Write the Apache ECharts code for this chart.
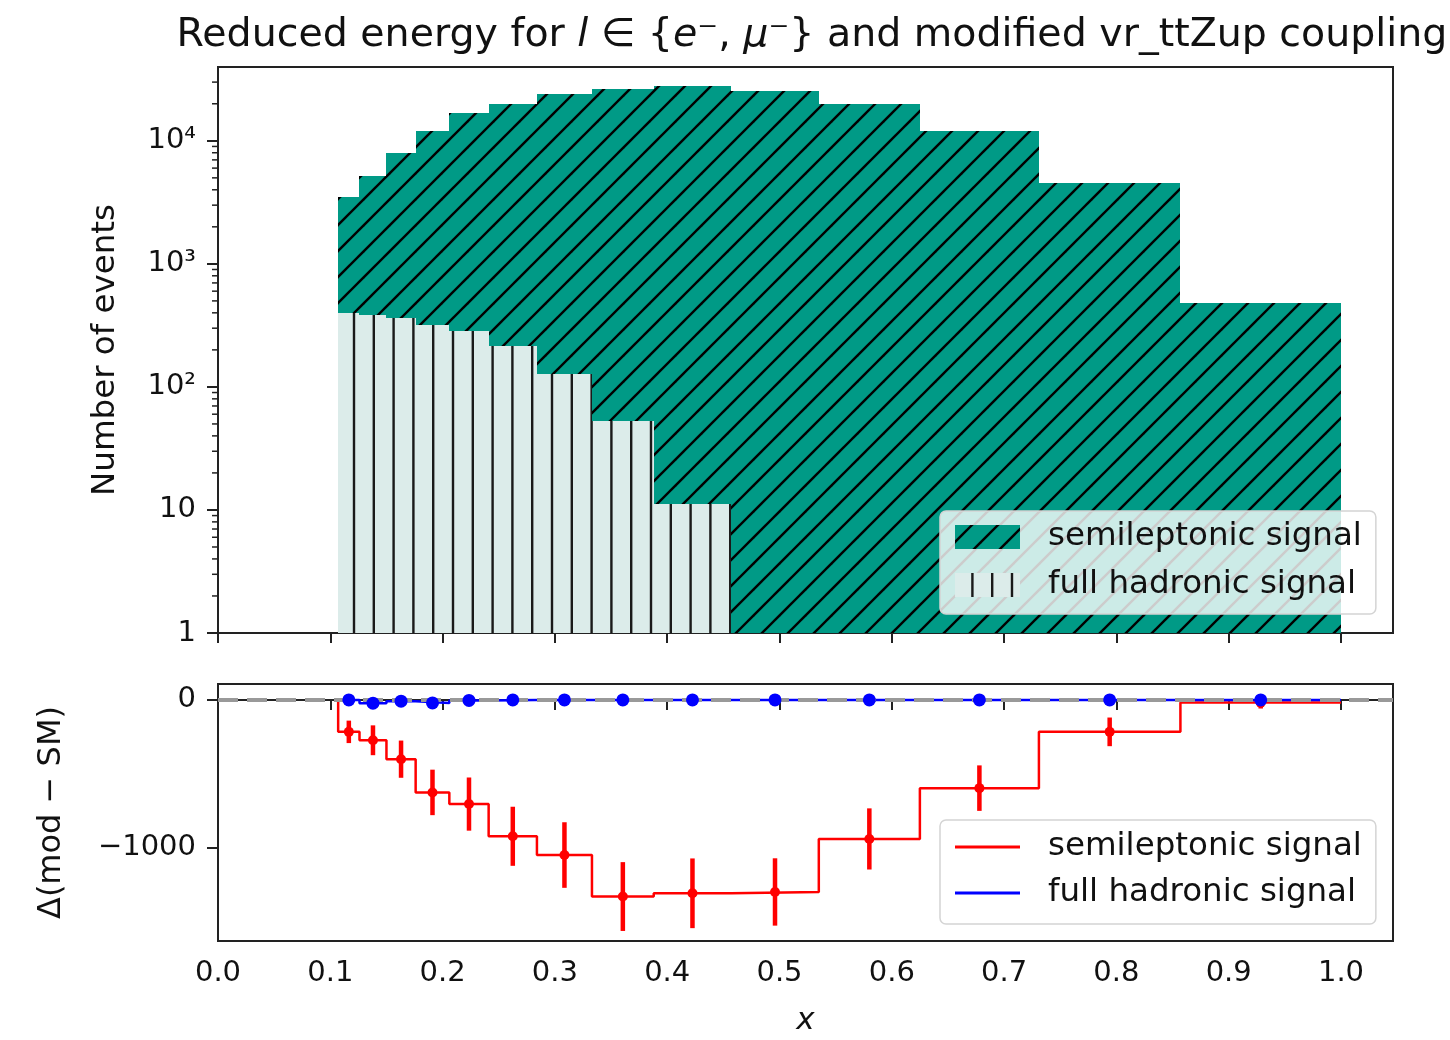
<!DOCTYPE html>
<html>
<head>
<meta charset="utf-8">
<title>Reduced energy - vr_ttZup</title>
<script src="https://cdn.jsdelivr.net/npm/echarts@6/dist/echarts.min.js"></script>
<style>
	html, body { margin: 0; padding: 0; background: #fff; }
	#main { width: 1450px; height: 1040px; }
</style>
</head>
<body>
<div id="main"></div>
<script>
// bin edges of the reduced energy x
var binEdges = [0.107, 0.126, 0.150, 0.176, 0.206, 0.241, 0.284, 0.333, 0.388, 0.457, 0.535, 0.625, 0.731, 0.857, 1.0];
// number of events per bin (stacked: hadronic below, semileptonic on top)
var hadronicEvents = [402, 385, 365, 318, 287, 215, 128, 53, 11.2, 0, 0, 0, 0, 0];
var semileptonicEvents = [3078, 4835, 7665, 11732, 16513, 19735, 23852, 26247, 27989, 25200, 19900, 12060, 4530, 484];
// difference modified - SM
var semileptonicDelta = [-216, -273, -401, -626, -705, -923, -1050, -1331, -1309, -1300, -941, -597, -216, -18];
var semileptonicDeltaErr = [76, 101, 126, 154, 180, 200, 222, 233, 236, 228, 207, 154, 97, 40];
var hadronicDelta = [0, -22, -8, -20, -3, 0, 0, 0, 0, 0, 0, 0, 0, 0];
// axis ticks
var xTicks = [0.0, 0.1, 0.2, 0.3, 0.4, 0.5, 0.6, 0.7, 0.8, 0.9, 1.0];
var countTicks = [1, 10, 100, 1000, 10000];
var countTickLabels = ['1', '10', '10²', '10³', '10⁴'];
var deltaTicks = [0, -1000];

var FONT = 'DejaVu Sans';
var TEAL = '#009a86';
var LIGHT = '#dcecea';
var X_MAX = 1.0463;

var legendText = {
	slTop: 'semileptonic signal',
	hadTop: 'full hadronic signal',
	slDelta: 'semileptonic signal',
	hadDelta: 'full hadronic signal'
};

//斜线填充
function diagonalPattern(size, offset) {
	var c = document.createElement('canvas');
	c.width = size;
	c.height = size;
	var ctx = c.getContext('2d');
	ctx.fillStyle = TEAL;
	ctx.fillRect(0, 0, size, size);
	ctx.strokeStyle = '#000';
	ctx.lineWidth = 2.4;
	for (var k = -2; k <= 2; k++) {
		var s = offset + k * size;
		ctx.beginPath();
		ctx.moveTo(-size, s + size);
		ctx.lineTo(2 * size, s - 2 * size);
		ctx.stroke();
	}
	return { image: c, repeat: 'repeat' };
}

//竖线填充
function verticalPattern(width, step, first) {
	var c = document.createElement('canvas');
	c.width = width;
	c.height = 20;
	var ctx = c.getContext('2d');
	ctx.fillStyle = LIGHT;
	ctx.fillRect(0, 0, width, 20);
	ctx.fillStyle = '#1a1a1a';
	for (var x = first; x < width; x += step) {
		ctx.fillRect(x - 1.2, 0, 2.4, 20);
	}
	return { image: c, repeat: 'repeat' };
}

var tealHatch = diagonalPattern(26, 17);
var lightHatch = verticalPattern(99, 19.8, 17.4);

var centers = [], hadBars = [], slBars = [], slStep = [[binEdges[0], 0]], hadStep = [[binEdges[0], 0]];
var errBars = [], slPoints = [], hadPoints = [];
for (var i = 0; i < semileptonicEvents.length; i++) {
	var c = (binEdges[i] + binEdges[i + 1]) / 2;
	centers.push(c);
	if (hadronicEvents[i] > 0) {
		hadBars.push([binEdges[i], binEdges[i + 1], 1, hadronicEvents[i]]);
	}
	slBars.push([binEdges[i], binEdges[i + 1], Math.max(hadronicEvents[i], 1), hadronicEvents[i] + semileptonicEvents[i]]);
	slStep.push([binEdges[i], semileptonicDelta[i]]);
	hadStep.push([binEdges[i], hadronicDelta[i]]);
	errBars.push([c, semileptonicDelta[i] - semileptonicDeltaErr[i], semileptonicDelta[i] + semileptonicDeltaErr[i]]);
	slPoints.push([c, semileptonicDelta[i]]);
	hadPoints.push([c, hadronicDelta[i]]);
}
slStep.push([binEdges[binEdges.length - 1], semileptonicDelta[semileptonicDelta.length - 1]]);
hadStep.push([binEdges[binEdges.length - 1], hadronicDelta[hadronicDelta.length - 1]]);

// minor ticks of the log axis
var minorTicks = [];
for (var d = 1; d <= 10000; d *= 10) {
	for (var m = 2; m <= 9; m++) {
		if (m * d < 39800) minorTicks.push([0, m * d]);
	}
}

function rectItem(fill) {
	return function(params, api) {
		var p0 = api.coord([api.value(0), api.value(2)]);
		var p1 = api.coord([api.value(1), api.value(3)]);
		// 取整, 避免相邻矩形之间出现细缝
		var x0 = Math.round(p0[0]), x1 = Math.round(p1[0]);
		var y0 = Math.round(p0[1]), y1 = Math.round(p1[1]);
		return {
			type: 'rect',
			shape: { x: x0, y: y1, width: x1 - x0, height: y0 - y1 },
			style: { fill: fill }
		};
	};
}

var axisLabelStyle = { fontFamily: FONT, fontSize: 29, color: '#111' };
var axisLineStyle = { show: true, lineStyle: { color: '#222', width: 2 } };

var chart = echarts.init(document.getElementById('main'));
var option = {
	animation: false,
	title: {
		left: 807,
		top: 11,
		textAlign: 'center',
		text: 'Reduced energy for {i|l} ∈ {{i|e}⁻, {i|μ}⁻} and modified vr_ttZup coupling',
		textStyle: {
			fontFamily: FONT, fontSize: 39.5, fontWeight: 'normal', color: '#111',
			rich: {
				i: { fontFamily: FONT, fontSize: 39.5, fontStyle: 'italic', color: '#111' }
			}
		}
	},
	grid: [
		{ left: 218, top: 67, width: 1175, height: 566, show: true, borderColor: '#222', borderWidth: 2, backgroundColor: 'transparent' },
		{ left: 218, top: 684, width: 1175, height: 257, show: true, borderColor: '#222', borderWidth: 2, backgroundColor: 'transparent' }
	],
	xAxis: [{
		gridIndex: 0, type: 'value', min: 0, max: X_MAX,
		axisLine: axisLineStyle,
		axisTick: { show: true, length: 10, customValues: xTicks, lineStyle: { color: '#222', width: 2 } },
		axisLabel: { show: false },
		splitLine: { show: false }
	}, {
		gridIndex: 1, type: 'value', min: 0, max: X_MAX,
		name: 'x', nameLocation: 'middle', nameGap: 64,
		nameTextStyle: { fontFamily: FONT, fontSize: 31, fontStyle: 'italic', color: '#111' },
		axisLine: axisLineStyle,
		axisTick: { show: true, length: 10, customValues: xTicks, lineStyle: { color: '#222', width: 2 } },
		axisLabel: Object.assign({ customValues: xTicks, margin: 18, formatter: function(v) { return v.toFixed(1); } }, axisLabelStyle),
		splitLine: { show: false }
	}],
	yAxis: [{
		gridIndex: 0, type: 'log', logBase: 10, min: 1, max: 39800,
		name: 'Number of events', nameLocation: 'middle', nameGap: 96, nameRotate: 90,
		nameTextStyle: { fontFamily: FONT, fontSize: 32.5, color: '#111' },
		axisLine: axisLineStyle,
		axisTick: { show: true, length: 11, customValues: countTicks, lineStyle: { color: '#222', width: 2 } },
		axisLabel: Object.assign({
			customValues: countTicks, margin: 22,
			formatter: function(v) { return countTickLabels[Math.round(Math.log(v) / Math.LN10)]; }
		}, axisLabelStyle),
		splitLine: { show: false }
	}, {
		gridIndex: 1, type: 'value', min: -1632, max: 108,
		name: 'Δ(mod − SM)', nameLocation: 'middle', nameGap: 150, nameRotate: 90,
		nameTextStyle: { fontFamily: FONT, fontSize: 32, color: '#111' },
		axisLine: axisLineStyle,
		axisTick: { show: true, length: 11, customValues: deltaTicks, lineStyle: { color: '#222', width: 2 } },
		axisLabel: Object.assign({
			customValues: deltaTicks, margin: 22,
			formatter: function(v) { return String(v).replace('-', '−'); }
		}, axisLabelStyle),
		splitLine: { show: false }
	}],
	legend: [{
		orient: 'vertical', left: 940, top: 511,
		data: [{ name: 'slTop', icon: 'rect' }, { name: 'hadTop', icon: 'rect' }],
		formatter: function(name) { return legendText[name]; },
		itemWidth: 65, itemHeight: 24, itemGap: 12,
		padding: [8, 14, 11, 15],
		backgroundColor: 'rgba(255,255,255,0.8)', borderColor: '#d4d4d4', borderWidth: 1.5, borderRadius: 6,
		textStyle: { fontFamily: FONT, fontSize: 32.5, color: '#111', lineHeight: 36, padding: [0, 0, 0, 23] }
	}, {
		orient: 'vertical', left: 940, top: 820,
		data: [{ name: 'slDelta', icon: 'rect' }, { name: 'hadDelta', icon: 'rect' }],
		formatter: function(name) { return legendText[name]; },
		itemWidth: 65, itemHeight: 3, itemGap: 10,
		padding: [9, 14, 13, 15],
		backgroundColor: 'rgba(255,255,255,0.8)', borderColor: '#d4d4d4', borderWidth: 1.5, borderRadius: 6,
		textStyle: { fontFamily: FONT, fontSize: 32.5, color: '#111', lineHeight: 36, padding: [0, 0, 0, 23] }
	}],
	series: [{
		//全强子信号
		name: 'hadTop', type: 'custom', xAxisIndex: 0, yAxisIndex: 0,
		renderItem: rectItem(lightHatch),
		itemStyle: { color: lightHatch },
		encode: { x: [0, 1], y: [2, 3] },
		data: hadBars, z: 2
	}, {
		//半轻子信号
		name: 'slTop', type: 'custom', xAxisIndex: 0, yAxisIndex: 0,
		renderItem: rectItem(tealHatch),
		itemStyle: { color: tealHatch },
		encode: { x: [0, 1], y: [2, 3] },
		data: slBars, z: 2
	}, {
		// minor ticks
		name: 'minor', type: 'custom', xAxisIndex: 0, yAxisIndex: 0,
		renderItem: function(params, api) {
			var p = api.coord([api.value(0), api.value(1)]);
			return {
				type: 'line',
				shape: { x1: p[0] - 6, y1: p[1], x2: p[0], y2: p[1] },
				style: { stroke: '#222', lineWidth: 1.5 }
			};
		},
		data: minorTicks, silent: true, z: 3
	}, {
		name: 'slDelta', type: 'line', xAxisIndex: 1, yAxisIndex: 1,
		step: 'end', symbol: 'none',
		lineStyle: { color: '#ff0000', width: 2.5 },
		itemStyle: { color: '#ff0000' },
		data: slStep, z: 2
	}, {
		name: 'hadDelta', type: 'line', xAxisIndex: 1, yAxisIndex: 1,
		step: 'end', symbol: 'none',
		lineStyle: { color: '#0000ff', width: 2.5 },
		itemStyle: { color: '#0000ff' },
		data: hadStep, z: 3
	}, {
		name: 'zero', type: 'line', xAxisIndex: 1, yAxisIndex: 1,
		symbol: 'none', silent: true,
		lineStyle: { color: '#999999', width: 4, type: [20, 9] },
		data: [[0, 0], [X_MAX, 0]], z: 4
	}, {
		name: 'slErr', type: 'custom', xAxisIndex: 1, yAxisIndex: 1,
		renderItem: function(params, api) {
			var lo = api.coord([api.value(0), api.value(1)]);
			var hi = api.coord([api.value(0), api.value(2)]);
			return {
				type: 'line',
				shape: { x1: lo[0], y1: lo[1], x2: hi[0], y2: hi[1] },
				style: { stroke: '#ff0000', lineWidth: 4.5 }
			};
		},
		data: errBars, z: 5
	}, {
		name: 'slPts', type: 'scatter', xAxisIndex: 1, yAxisIndex: 1,
		symbol: 'circle', symbolSize: 10,
		itemStyle: { color: '#ff0000', opacity: 1 },
		data: slPoints, z: 5
	}, {
		name: 'hadPts', type: 'scatter', xAxisIndex: 1, yAxisIndex: 1,
		symbol: 'circle', symbolSize: 13,
		itemStyle: { color: '#0000ff', opacity: 1 },
		data: hadPoints, z: 6
	}]
};
chart.setOption(option);
</script>
</body>
</html>
